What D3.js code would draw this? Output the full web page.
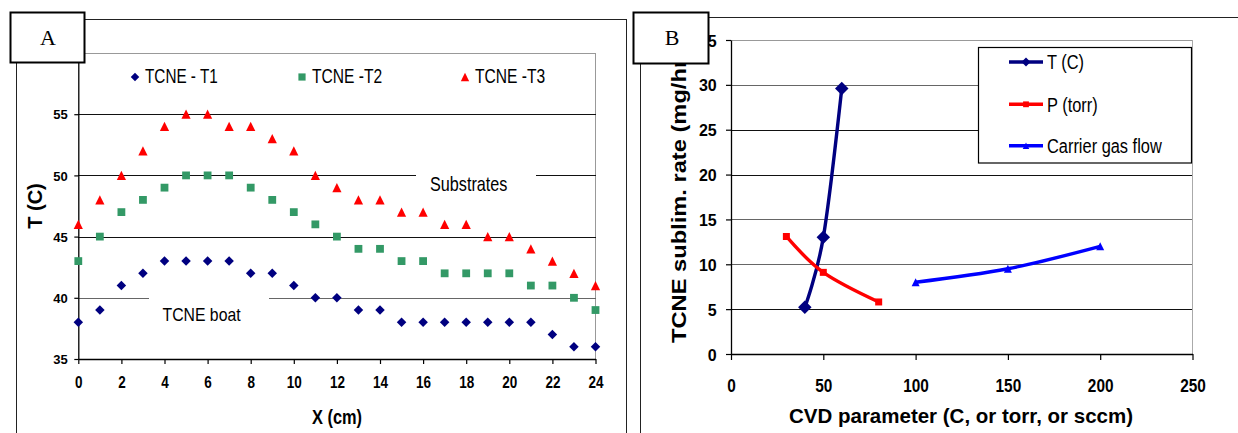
<!DOCTYPE html>
<html>
<head>
<meta charset="utf-8">
<script src="https://cdn.jsdelivr.net/npm/d3@7"></script>
<style>
  html, body { margin: 0; padding: 0; background: #fff; }
  svg { display: block; }
</style>
</head>
<body>
<svg id="chart" width="1238" height="433"></svg>
<script>
// ---- Panel A: temperature profile along the tube ----
const positionCm = [0, 1, 2, 3, 4, 5, 6, 7, 8, 9, 10, 11, 12, 13, 14, 15, 16, 17, 18, 19, 20, 21, 22, 23, 24];
const tcneT1 = [38, 39, 41, 42, 43, 43, 43, 43, 42, 42, 41, 40, 40, 39, 39, 38, 38, 38, 38, 38, 38, 38, 37, 36, 36];
const tcneT2 = [43, 45, 47, 48, 49, 50, 50, 50, 49, 48, 47, 46, 45, 44, 44, 43, 43, 42, 42, 42, 42, 41, 41, 40, 39];
const tcneT3 = [46, 48, 50, 52, 54, 55, 55, 54, 54, 53, 52, 50, 49, 48, 48, 47, 47, 46, 46, 45, 45, 44, 43, 42, 41];
const seriesNamesA = ["TCNE - T1", "TCNE -T2", "TCNE -T3"];
const ticksXA = [0, 2, 4, 6, 8, 10, 12, 14, 16, 18, 20, 22, 24];
const ticksYA = [35, 40, 45, 50, 55];
const gridYA = [40, 45, 50, 55];

// ---- Panel B: sublimation rate vs CVD parameter ----
const tempX = [40, 50, 60];
const tempRate = [5.2, 13, 29.6];
const pressX = [30, 50, 80];
const pressRate = [13.1, 9.1, 5.8];
const flowX = [100, 150, 200];
const flowRate = [8, 9.5, 12];
const seriesNamesB = ["T (C)", "P (torr)", "Carrier gas flow"];
const ticksXB = [0, 50, 100, 150, 200, 250];
const ticksYB = [0, 5, 10, 15, 20, 25, 30, 35];

const SANS = "'Liberation Sans', Arial, Helvetica, sans-serif";
const SERIF = "'Liberation Serif', 'Times New Roman', serif";
const NAVY = "#000080", GREEN = "#339966", RED = "#ff0000", BLUE = "#0000ff";

const svg = d3.select("#chart");

// text helper: anchor point, font size and an optional scale about the anchor
function addText(parent, str, x, y, o = {}) {
  const t = parent.append("text")
    .attr("transform", `translate(${x},${y}) rotate(${o.rotate || 0}) scale(${o.sx || 1},${o.sy || 1})`)
    .attr("text-anchor", o.anchor || "start")
    .attr("font-family", o.family || SANS)
    .attr("font-size", o.size || 14)
    .attr("font-weight", o.weight || "normal")
    .attr("fill", o.fill || "#000")
    .text(str);
  if (o.textLength) t.attr("textLength", o.textLength).attr("lengthAdjust", "spacingAndGlyphs");
  return t;
}

function line(parent, x1, y1, x2, y2, stroke, w = 1) {
  parent.append("line").attr("x1", x1).attr("y1", y1).attr("x2", x2).attr("y2", y2)
    .attr("stroke", stroke).attr("stroke-width", w).attr("shape-rendering", "crispEdges");
}

const diamondPath = s => d3.symbol(d3.symbolSquare, s * s / 2)();
const squarePath = s => d3.symbol(d3.symbolSquare, s * s)();
// upward triangle of side s, shifted so its bounding box is centred on the point
const trianglePath = s => {
  const h = Math.sqrt(3) / 2 * s, p = d3.path();
  p.moveTo(0, -h / 2); p.lineTo(s / 2, h / 2); p.lineTo(-s / 2, h / 2); p.closePath();
  return p.toString();
};

// ================= Panel A =================
const gA = svg.append("g");
// chart area frame
line(gA, 16.5, 19.5, 626.5, 19.5, "#222");
line(gA, 16.5, 19.5, 16.5, 433, "#222");
line(gA, 626.5, 19.5, 626.5, 433, "#222");

const xA = d3.scaleLinear().domain([0, 24]).range([78.3, 595.5]);
const yA = d3.scaleLinear().domain([35, 60]).range([359, 53]);

// plot area border (top and right)
line(gA, xA(0), yA(60), xA(24), yA(60), "#999");
line(gA, xA(24), yA(60), xA(24), yA(35), "#999");

// gridlines
gA.append("g").selectAll("line").data(gridYA).join("line")
  .attr("x1", xA(0)).attr("x2", xA(24))
  .attr("y1", d => Math.round(yA(d)) + 0.5).attr("y2", d => Math.round(yA(d)) + 0.5)
  .attr("stroke", d => d === 40 ? "#666" : "#111").attr("stroke-width", 1)
  .attr("shape-rendering", "crispEdges");

// annotation labels sitting on the gridlines
gA.append("rect").attr("x", 416).attr("y", 168).attr("width", 120).attr("height", 26).attr("fill", "#fff");
addText(gA, "Substrates", 430, 190.5, { size: 16.2, sy: 1.22 });
gA.append("rect").attr("x", 149).attr("y", 291).attr("width", 120).attr("height", 34).attr("fill", "#fff");
addText(gA, "TCNE boat", 162.5, 320.5, { size: 15.8, sy: 1.22 });

// axes
const axXA = d3.axisBottom(xA).tickValues(ticksXA).tickSize(5).tickSizeOuter(0);
const axYA = d3.axisLeft(yA).tickValues(ticksYA).tickSize(4).tickSizeOuter(0);
const gxA = gA.append("g").attr("transform", `translate(0,${yA(35)})`).call(axXA);
const gyA = gA.append("g").attr("transform", `translate(${xA(0)},0)`).call(axYA);
[gxA, gyA].forEach(g => {
  g.select(".domain").attr("stroke", "#000").attr("stroke-width", 1.3);
  g.selectAll(".tick line").attr("stroke", "#000").attr("stroke-width", 1.2);
  g.selectAll(".tick text").attr("font-family", SANS).attr("font-weight", "bold").attr("fill", "#000");
});
gxA.selectAll(".tick text").attr("y", 0).attr("dy", 0).attr("font-size", 13.5)
  .attr("transform", "translate(0,29.3) scale(1,1.2)");
gyA.selectAll(".tick text").attr("x", 0).attr("dy", 0).attr("font-size", 13)
  .attr("transform", "translate(-10.6,4.6)");

// axis titles
addText(gA, "X (cm)", 337, 424, { size: 16.4, weight: "bold", anchor: "middle", sy: 1.2 });
addText(gA, "T (C)", 41.5, 206, { size: 20, weight: "bold", anchor: "middle", rotate: -90 });

// markers
const seriesA = [
  { values: tcneT1, path: diamondPath(9.5), rot: 45, color: NAVY },
  { values: tcneT2, path: squarePath(7.8), rot: 0, color: GREEN },
  { values: tcneT3, path: trianglePath(9.2), rot: 0, color: RED, sy: 1.15 }
];
seriesA.forEach(s => {
  gA.append("g").selectAll("path").data(positionCm).join("path")
    .attr("d", s.path)
    .attr("fill", s.color)
    .attr("transform", (d, i) => `translate(${xA(d)},${yA(s.values[i])}) rotate(${s.rot}) scale(1,${s.sy || 1})`);
});

// legend
const legA = [
  { x: 145, mx: 135, size: 15.3, path: diamondPath(8.5), rot: 45, color: NAVY },
  { x: 312, mx: 302, size: 15.6, path: squarePath(7.2), rot: 0, color: GREEN },
  { x: 475, mx: 465, size: 15.6, path: trianglePath(8.4), rot: 0, color: RED, sy: 1.15 }
];
legA.forEach((l, i) => {
  gA.append("path").attr("d", l.path).attr("fill", l.color)
    .attr("transform", `translate(${l.mx},77) rotate(${l.rot}) scale(1,${l.sy || 1})`);
  addText(gA, seriesNamesA[i], l.x, 83.3, { size: l.size, sy: 1.28 });
});

// panel tag
gA.append("rect").attr("x", 10.5).attr("y", 12.5).attr("width", 74).attr("height", 50)
  .attr("fill", "#fff").attr("stroke", "#000").attr("stroke-width", 2);
addText(gA, "A", 48, 45, { size: 22, family: SERIF, anchor: "middle" });

// ================= Panel B =================
const gB = svg.append("g");
line(gB, 640.5, 17.5, 1238, 17.5, "#222");
line(gB, 640.5, 17.5, 640.5, 433, "#222");

const xB = d3.scaleLinear().domain([0, 250]).range([731, 1192.5]);
const yB = d3.scaleLinear().domain([0, 35]).range([354, 40]);

// gridlines
gB.append("g").selectAll("line").data(ticksYB.filter(d => d > 0)).join("line")
  .attr("x1", xB(0)).attr("x2", xB(250))
  .attr("y1", d => Math.round(yB(d)) + 0.5).attr("y2", d => Math.round(yB(d)) + 0.5)
  .attr("stroke", d => (d === 35 ? "#999" : (d === 5 || d === 20 || d === 25) ? "#111" : "#666"))
  .attr("stroke-width", 1).attr("shape-rendering", "crispEdges");
line(gB, xB(250), yB(35), xB(250), yB(0), "#aaa", 1.5);

const axXB = d3.axisBottom(xB).tickValues(ticksXB).tickSize(6).tickSizeOuter(0);
const axYB = d3.axisLeft(yB).tickValues(ticksYB).tickSize(5).tickSizeOuter(0);
const gxB = gB.append("g").attr("transform", `translate(0,${yB(0)})`).call(axXB);
const gyB = gB.append("g").attr("transform", `translate(${xB(0)},0)`).call(axYB);
[gxB, gyB].forEach(g => {
  g.select(".domain").attr("stroke", "#000").attr("stroke-width", 1.3);
  g.selectAll(".tick line").attr("stroke", "#000").attr("stroke-width", 1.2);
  g.selectAll(".tick text").attr("font-family", SANS).attr("font-weight", "bold").attr("fill", "#000");
});
gxB.selectAll(".tick text").attr("y", 0).attr("dy", 0).attr("font-size", 15.4)
  .attr("transform", "translate(0,37.7) scale(1,1.2)");
gyB.selectAll(".tick text").attr("x", 0).attr("dy", 0).attr("font-size", 16)
  .attr("transform", "translate(-14.3,6)");

addText(gB, "CVD parameter (C, or torr, or sccm)", 961, 423, { size: 20.5, weight: "bold", anchor: "middle" });
addText(gB, "TCNE sublim. rate (mg/hr)", 686, 197, { size: 21, weight: "bold", anchor: "middle", rotate: -90, textLength: 292 });

// smoothed series lines
const smooth = d3.line().x(d => xB(d[0])).y(d => yB(d[1])).curve(d3.curveCardinal.tension(0));
const seriesB = [
  { xs: tempX, ys: tempRate, color: NAVY, path: diamondPath(13.5), rot: 45, lpath: diamondPath(9) },
  { xs: pressX, ys: pressRate, color: RED, path: squarePath(7), rot: 0, lpath: squarePath(5.8) },
  { xs: flowX, ys: flowRate, color: BLUE, path: trianglePath(8), rot: 0, lpath: trianglePath(6.5), sy: 1.15 }
];
seriesB.forEach(s => {
  const pts = s.xs.map((x, i) => [x, s.ys[i]]);
  gB.append("path").datum(pts).attr("d", smooth)
    .attr("fill", "none").attr("stroke", s.color).attr("stroke-width", 3.4).attr("stroke-linejoin", "round");
  gB.append("g").selectAll("path").data(pts).join("path")
    .attr("d", s.path).attr("fill", s.color)
    .attr("transform", d => `translate(${xB(d[0])},${yB(d[1])}) rotate(${s.rot}) scale(1,${s.sy || 1})`);
});

// legend
gB.append("rect").attr("x", 978.5).attr("y", 47.5).attr("width", 213).attr("height", 115.5)
  .attr("fill", "#fff").attr("stroke", "#000").attr("stroke-width", 1.2);
const legRowsY = [62, 104.3, 145.7];
seriesB.forEach((s, i) => {
  const y = legRowsY[i];
  gB.append("line").attr("x1", 1009).attr("x2", 1043).attr("y1", y).attr("y2", y)
    .attr("stroke", s.color).attr("stroke-width", 3.4);
  gB.append("path").attr("d", s.lpath).attr("fill", s.color)
    .attr("transform", `translate(1026,${y}) rotate(${s.rot}) scale(1,${s.sy || 1})`);
  addText(gB, seriesNamesB[i], 1047, y + 7.3, { size: 16.4, sy: 1.27 });
});

// panel tag
gB.append("rect").attr("x", 633.5).attr("y", 12.5).attr("width", 75).attr("height", 51)
  .attr("fill", "#fff").attr("stroke", "#000").attr("stroke-width", 2);
addText(gB, "B", 672, 45, { size: 22, family: SERIF, anchor: "middle" });
</script>
</body>
</html>
